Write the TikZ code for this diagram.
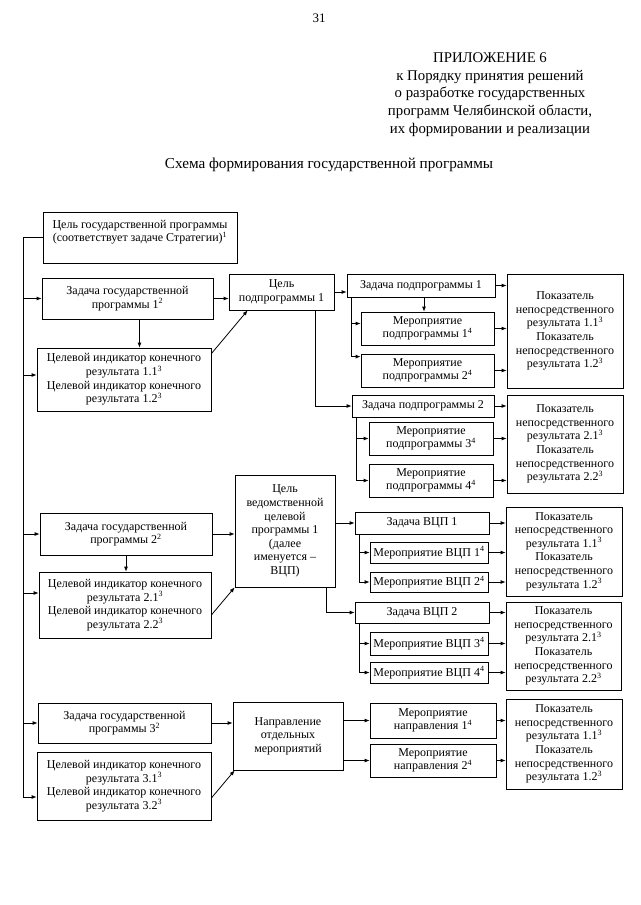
\documentclass[tikz,border=0pt]{standalone}
\usepackage{fontspec}
\setmainfont{Liberation Serif}
\usetikzlibrary{arrows.meta}

\begin{document}
\begin{tikzpicture}[x=1pt, y=-1pt,
  box/.style={draw, line width=0.8pt, inner sep=1pt, align=center,
    font=\fontsize{12}{13.6}\selectfont},
  arr/.style={-{Latex[length=5pt,width=4pt]}, line width=0.8pt}]

  \useasboundingbox (0,0) rectangle (640,905);

  % Header
  \node[font=\fontsize{13}{15}\selectfont] (page) at (319,18) {31};
  \node[align=center, font=\fontsize{14.8}{17.8}\selectfont] (annex) at (490,94.5)
    {ПРИЛОЖЕНИЕ 6\\к Порядку принятия решений\\о разработке государственных\\программ Челябинской области,\\их формировании и реализации};
  \node[font=\fontsize{15.2}{17.8}\selectfont] (title) at (329,165)
    {Схема формирования государственной программы};

  % Goal of the state programme
  \node[box, minimum width=194pt, minimum height=51pt] (goal) at (140,237.5)
    {Цель государственной программы\\(соответствует задаче Стратегии)\textsuperscript{1}\\~};

  % Task 1 and subprogramme
  \node[box, minimum width=171pt, minimum height=41pt] (z1) at (127.5,298.5)
    {Задача государственной\\программы 1\textsuperscript{2}};
  \node[box, minimum width=174pt, minimum height=63pt] (ind1) at (124,379.5)
    {Целевой индикатор конечного\\результата 1.1\textsuperscript{3}\\Целевой индикатор конечного\\результата 1.2\textsuperscript{3}};
  \node[box, minimum width=105pt, minimum height=36pt] (sgoal) at (281.5,292)
    {Цель\\подпрограммы 1};
  \node[box, minimum width=148pt, minimum height=23pt] (sz1) at (421,285.5)
    {Задача подпрограммы 1};
  \node[box, minimum width=133pt, minimum height=33pt] (sm1) at (427.5,328.5)
    {Мероприятие\\подпрограммы 1\textsuperscript{4}};
  \node[box, minimum width=133pt, minimum height=33pt] (sm2) at (427.5,370.5)
    {Мероприятие\\подпрограммы 2\textsuperscript{4}};
  \node[box, minimum width=116pt, minimum height=114pt] (sp1) at (565,331)
    {Показатель\\непосредственного\\результата 1.1\textsuperscript{3}\\Показатель\\непосредственного\\результата 1.2\textsuperscript{3}};
  \node[box, minimum width=142pt, minimum height=22pt] (sz2) at (423,406)
    {Задача подпрограммы 2};
  \node[box, minimum width=124pt, minimum height=33pt] (sm3) at (431,438.5)
    {Мероприятие\\подпрограммы 3\textsuperscript{4}};
  \node[box, minimum width=124pt, minimum height=33pt] (sm4) at (431,480.5)
    {Мероприятие\\подпрограммы 4\textsuperscript{4}};
  \node[box, minimum width=116pt, minimum height=98pt] (sp2) at (565,444)
    {Показатель\\непосредственного\\результата 2.1\textsuperscript{3}\\Показатель\\непосредственного\\результата 2.2\textsuperscript{3}};

  % Task 2 and departmental programme
  \node[box, minimum width=172pt, minimum height=42pt] (z2) at (126,534)
    {Задача государственной\\программы 2\textsuperscript{2}};
  \node[box, minimum width=172pt, minimum height=66pt] (ind2) at (125,605)
    {Целевой индикатор конечного\\результата 2.1\textsuperscript{3}\\Целевой индикатор конечного\\результата 2.2\textsuperscript{3}};
  \node[box, minimum width=100pt, minimum height=112pt] (vgoal) at (285,531)
    {Цель\\ведомственной\\целевой\\программы 1\\(далее\\именуется –\\ВЦП)};
  \node[box, minimum width=134pt, minimum height=22pt] (vz1) at (422,523)
    {Задача ВЦП 1};
  \node[box, minimum width=118pt, minimum height=21pt] (vm1) at (429,552.5)
    {Мероприятие ВЦП 1\textsuperscript{4}};
  \node[box, minimum width=118pt, minimum height=20pt] (vm2) at (429,582)
    {Мероприятие ВЦП 2\textsuperscript{4}};
  \node[box, minimum width=116pt, minimum height=89pt] (vp1) at (564,551.5)
    {Показатель\\непосредственного\\результата 1.1\textsuperscript{3}\\Показатель\\непосредственного\\результата 1.2\textsuperscript{3}};
  \node[box, minimum width=134pt, minimum height=21pt] (vz2) at (422,612.5)
    {Задача ВЦП 2};
  \node[box, minimum width=118pt, minimum height=23pt] (vm3) at (429,643.5)
    {Мероприятие ВЦП 3\textsuperscript{4}};
  \node[box, minimum width=118pt, minimum height=21pt] (vm4) at (429,672.5)
    {Мероприятие ВЦП 4\textsuperscript{4}};
  \node[box, minimum width=115pt, minimum height=88pt] (vp2) at (563.5,646)
    {Показатель\\непосредственного\\результата 2.1\textsuperscript{3}\\Показатель\\непосредственного\\результата 2.2\textsuperscript{3}};

  % Task 3 and separate measures
  \node[box, minimum width=173pt, minimum height=40pt] (z3) at (124.5,723)
    {Задача государственной\\программы 3\textsuperscript{2}};
  \node[box, minimum width=174pt, minimum height=68pt] (ind3) at (124,786)
    {Целевой индикатор конечного\\результата 3.1\textsuperscript{3}\\Целевой индикатор конечного\\результата 3.2\textsuperscript{3}};
  \node[box, minimum width=110pt, minimum height=68pt] (dir) at (288,736)
    {Направление\\отдельных\\мероприятий};
  \node[box, minimum width=126pt, minimum height=35pt] (dm1) at (433,720.5)
    {Мероприятие\\направления 1\textsuperscript{4}};
  \node[box, minimum width=126pt, minimum height=33pt] (dm2) at (433,760.5)
    {Мероприятие\\направления 2\textsuperscript{4}};
  \node[box, minimum width=116pt, minimum height=90pt] (dp) at (564,744)
    {Показатель\\непосредственного\\результата 1.1\textsuperscript{3}\\Показатель\\непосредственного\\результата 1.2\textsuperscript{3}};

  % Left trunk
  \coordinate (trunk) at (23,239);
  \coordinate (trunkEnd) at (23,797);
  \draw[arr] (goal.west) -- (goal.west -| trunk) -- (trunkEnd) -- (trunkEnd -| ind3.west);
  \draw[arr] (trunk |- z1.west) -- (z1.west);
  \draw[arr] (trunk |- 0,375) -- ([yshift=4.5pt]ind1.west);
  \draw[arr] (trunk |- z2.west) -- (z2.west);
  \draw[arr] (trunk |- 0,593) -- ([yshift=12pt]ind2.west);
  \draw[arr] (trunk |- z3.west) -- (z3.west);

  % Tasks to indicators
  \draw[arr] ([xshift=12pt]z1.south) -- ([xshift=12pt]z1.south |- ind1.north);
  \draw[arr] (z2.south) -- (z2.south |- ind2.north);

  % Subprogramme branch
  \draw[arr] (z1.east) -- (z1.east -| sgoal.west);
  \draw[arr] ([yshift=-6pt]ind1.north east) -- ([xshift=19pt]sgoal.south west);
  \draw[arr] (sgoal.east) -- (sgoal.east -| sz1.west);
  \draw[arr] ([xshift=33.5pt]sgoal.south) |- (sz2.west);
  \draw[arr] ([xshift=3pt]sz1.south) -- ([xshift=3pt]sz1.south |- sm1.north);
  \draw[arr] ([xshift=5pt]sz1.south west) |- ([yshift=5pt]sm1.west);
  \draw[arr] ([xshift=5pt]sz1.south west) |- ([yshift=-3pt]sm2.north west);
  \draw[arr] (sz1.east) -- (sz1.east -| sp1.west);
  \draw[arr] (sm1.east) -- (sm1.east -| sp1.west);
  \draw[arr] (sm2.east) -- (sm2.east -| sp1.west);
  \draw[arr] ([xshift=5pt]sz2.south west) |- (sm3.west);
  \draw[arr] ([xshift=5pt]sz2.south west) |- (sm4.west);
  \draw[arr] (sz2.east) -- (sz2.east -| sp2.west);
  \draw[arr] (sm3.east) -- (sm3.east -| sp2.west);
  \draw[arr] (sm4.east) -- (sm4.east -| sp2.west);

  % Departmental programme branch
  \draw[arr] (z2.east) -- (z2.east -| vgoal.west);
  \draw[arr] ([yshift=-10pt]ind2.east) -- (vgoal.south west);
  \draw[arr] (vgoal.east |- vz1.west) -- (vz1.west);
  \draw[arr] ([xshift=41pt]vgoal.south) |- (vz2.west);
  \draw[arr] ([xshift=5pt]vz1.south west) |- (vm1.west);
  \draw[arr] ([xshift=5pt]vz1.south west) |- (vm2.west);
  \draw[arr] (vz1.east) -- (vz1.east -| vp1.west);
  \draw[arr] (vm1.east) -- (vm1.east -| vp1.west);
  \draw[arr] (vm2.east) -- (vm2.east -| vp1.west);
  \draw[arr] ([xshift=5pt]vz2.south west) |- (vm3.west);
  \draw[arr] ([xshift=5pt]vz2.south west) |- (vm4.west);
  \draw[arr] (vz2.east) -- (vz2.east -| vp2.west);
  \draw[arr] (vm3.east) -- (vm3.east -| vp2.west);
  \draw[arr] (vm4.east) -- (vm4.east -| vp2.west);

  % Separate measures branch
  \draw[arr] (z3.east) -- (z3.east -| dir.west);
  \draw[arr] ([yshift=-12pt]ind3.east) -- ([xshift=2pt]dir.south west);
  \draw[arr] (dir.east |- dm1.west) -- (dm1.west);
  \draw[arr] (dir.east |- dm2.west) -- (dm2.west);
  \draw[arr] (dm1.east) -- (dm1.east -| dp.west);
  \draw[arr] (dm2.east) -- (dm2.east -| dp.west);

\end{tikzpicture}
\end{document}
